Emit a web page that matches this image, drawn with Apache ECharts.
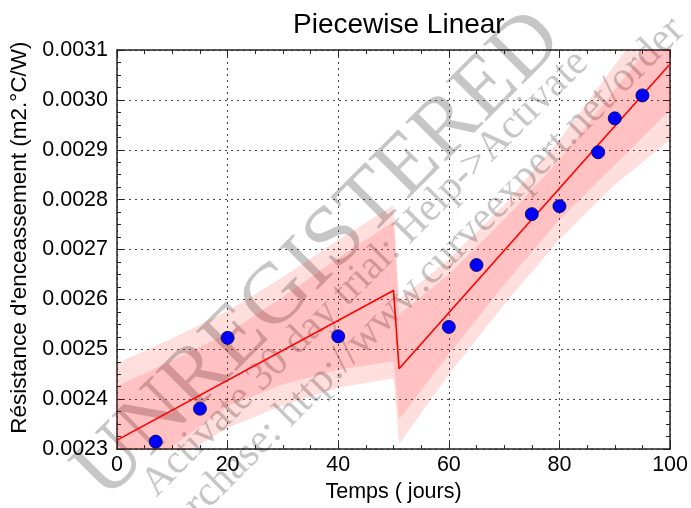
<!DOCTYPE html>
<html>
<head>
<meta charset="utf-8">
<script src="https://cdn.jsdelivr.net/npm/echarts@6/dist/echarts.min.js"></script>
<style>
  html, body { margin: 0; padding: 0; background: #fff; }
  #chart { width: 691px; height: 508px; }
</style>
</head>
<body>
<div id="chart"></div>
<script>
// Measured fouling resistance versus time
const dayValues = [7, 15, 20, 40, 60, 65, 75, 80, 87, 90, 95];
const resistanceValues = [0.002315, 0.002381, 0.002523, 0.002526, 0.002545, 0.002669,
                          0.002771, 0.002787, 0.002895, 0.002963, 0.003009];

// Piecewise linear fit, break between day 50 and day 51
const fitDays = [0, 50, 51, 100];
const fitValues = [0.002318, 0.002618, 0.002461, 0.003072];

// Band edges of the fit, sampled on these days
const bandDays   = [0, 10, 20, 30, 40, 50, 51, 60, 70, 80, 90, 100];
const outerUpper = [0.002472, 0.002522, 0.002577, 0.002645, 0.002719, 0.002789,
                    0.002600, 0.002680, 0.002790, 0.002920, 0.003070, 0.003220];
const innerUpper = [0.002426, 0.002478, 0.002532, 0.002605, 0.002683, 0.002756,
                    0.002570, 0.002650, 0.002760, 0.002880, 0.003020, 0.003160];
const innerLower = [0.002215, 0.002305, 0.002386, 0.002430, 0.002459, 0.002476,
                    0.002360, 0.002490, 0.002630, 0.002760, 0.002870, 0.002980];
const outerLower = [0.002165, 0.002275, 0.002343, 0.002388, 0.002423, 0.002442,
                    0.002310, 0.002450, 0.002590, 0.002720, 0.002830, 0.002920];

// Axis ticks
const xTickLabels = ['0', '20', '40', '60', '80', '100'];
const yTickLabels = ['0.0023', '0.0024', '0.0025', '0.0026', '0.0027', '0.0028', '0.0029', '0.0030', '0.0031'];
const X_MIN = 0, X_MAX = 100, X_STEP = 20;
const Y_MIN = 0.0023, Y_MAX = 0.0031, Y_STEP = 0.0001;

const bands = [
  { upper: outerUpper, lower: outerLower },
  { upper: innerUpper, lower: innerLower }
];

const FONT = 'Liberation Sans, Arial, sans-serif';
const SERIF = 'Liberation Serif, serif';
const AXIS_COLOR = '#222';
const STAMP_FILL = 'rgba(120,120,120,0.42)';

function boxAxis(extra) {
  return Object.assign({
    type: 'value',
    axisLine: { show: true, onZero: false, lineStyle: { color: AXIS_COLOR, width: 1.5 } },
    axisTick: { show: true, inside: true, length: 7, lineStyle: { color: AXIS_COLOR, width: 1 } },
    minorTick: { show: true, splitNumber: 4, length: 4, lineStyle: { color: AXIS_COLOR, width: 1 } },
    splitLine: { show: false },
    axisLabel: { show: false }
  }, extra);
}

const chart = echarts.init(document.getElementById('chart'), null, { renderer: 'canvas' });

chart.setOption({
  animation: false,
  backgroundColor: '#fff',
  title: {
    text: 'Piecewise Linear',
    left: 288,
    top: 6,
    textStyle: { fontFamily: FONT, fontSize: 28, fontWeight: 'normal', color: '#000' }
  },
  grid: { left: 117, top: 50, right: 18, bottom: 57 },
  xAxis: [
    boxAxis({
      min: X_MIN, max: X_MAX, interval: X_STEP, position: 'bottom',
      name: 'Temps ( jours)', nameLocation: 'middle', nameGap: 31,
      nameTextStyle: { fontFamily: FONT, fontSize: 21.5, color: '#000' },
      axisLabel: {
        show: true, margin: 5, color: '#000', fontFamily: FONT, fontSize: 21.5,
        formatter: v => xTickLabels[Math.round((v - X_MIN) / X_STEP)]
      },
      splitLine: { show: true, lineStyle: { color: '#444', width: 1, type: [2, 4] } }
    }),
    boxAxis({ min: X_MIN, max: X_MAX, interval: X_STEP, position: 'top' })
  ],
  yAxis: [
    boxAxis({
      min: Y_MIN, max: Y_MAX, interval: Y_STEP, position: 'left',
      name: "Résistance d'enceassement (m2.°C/W)", nameLocation: 'middle', nameGap: 84,
      nameTextStyle: { fontFamily: FONT, fontSize: 22.5, color: '#000', padding: [0, 0, 0, 24] },
      axisLabel: {
        show: true, margin: 9, color: '#000', fontFamily: FONT, fontSize: 21.5,
        formatter: v => yTickLabels[Math.round((v - Y_MIN) / Y_STEP)]
      },
      splitLine: { show: true, lineStyle: { color: '#444', width: 1, type: [2, 4] } }
    }),
    boxAxis({ min: Y_MIN, max: Y_MAX, interval: Y_STEP, position: 'right' })
  ],
  graphic: [{
    type: 'group',
    x: 332, y: 260,
    rotation: Math.PI / 4,
    z: 50,
    silent: true,
    children: [
      { type: 'text', x: -6, y: -12,
        style: { text: 'UNREGISTERED', fontFamily: SERIF, fontSize: 86,
                 fill: STAMP_FILL, align: 'center', verticalAlign: 'middle' } },
      { type: 'text', x: 14, y: 33,
        style: { text: 'Activate 30 day trial: Help->Activate', fontFamily: SERIF, fontSize: 41,
                 fill: STAMP_FILL, align: 'center', verticalAlign: 'middle' } },
      { type: 'text', x: 45, y: 78,
        style: { text: 'Purchase: http://www.curveexpert.net/order', fontFamily: SERIF, fontSize: 42,
                 fill: STAMP_FILL, align: 'center', verticalAlign: 'middle' } }
    ]
  }],
  series: [
    {
      type: 'custom',
      name: 'bands',
      clip: true,
      z: 1,
      data: bands.map((b, i) => [i]),
      encode: { x: 0 },
      renderItem: function (params, api) {
        const b = bands[params.dataIndex];
        const pts = [];
        for (let i = 0; i < bandDays.length; i++) pts.push(api.coord([bandDays[i], b.upper[i]]));
        for (let i = bandDays.length - 1; i >= 0; i--) pts.push(api.coord([bandDays[i], b.lower[i]]));
        return { type: 'polygon', shape: { points: pts }, style: { fill: 'rgba(255,0,0,0.13)' } };
      }
    },
    {
      type: 'line',
      name: 'fit',
      z: 60,
      data: fitDays.map((d, i) => [d, fitValues[i]]),
      showSymbol: false,
      lineStyle: { color: '#ff0000', width: 1.6 }
    },
    {
      type: 'scatter',
      name: 'data',
      z: 70,
      data: dayValues.map((d, i) => [d, resistanceValues[i]]),
      symbolSize: 13,
      itemStyle: { color: '#0000ff', borderColor: '#000044', borderWidth: 0.8, opacity: 1 }
    }
  ]
});
</script>
</body>
</html>
